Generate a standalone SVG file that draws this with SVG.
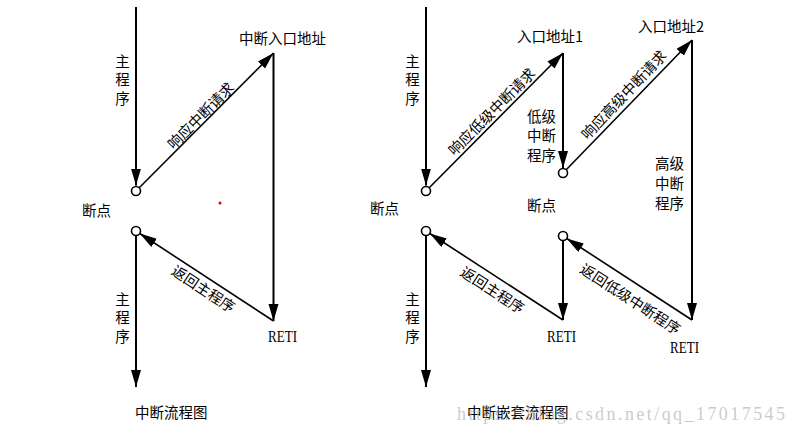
<svg xmlns="http://www.w3.org/2000/svg" width="797" height="436" viewBox="0 0 797 436">
<style>
.cjk{font-family:"Noto Sans CJK SC","Noto Sans",sans-serif;font-size:14.5px;fill:#000}
.vt{writing-mode:vertical-rl;glyph-orientation-vertical:0;letter-spacing:4px}
.ret{font-family:"Liberation Serif",serif;font-size:16px;fill:#000}
.rot{text-anchor:middle;dominant-baseline:central}
.v{stroke:#000;stroke-width:2;fill:none}
.d{stroke:#000;stroke-width:1.6;fill:none}
.bp{fill:#fff;stroke:#000;stroke-width:1.6}
.wm{font-family:"Liberation Serif",serif;font-size:18px;fill:#b4b4b4;fill-opacity:0.7}
</style>
<defs>
<marker id="ah" markerUnits="userSpaceOnUse" markerWidth="18" markerHeight="11" refX="17" refY="5" orient="auto">
<path d="M0,0 L17,5 L0,10 Z" fill="#000"/>
</marker>
</defs>
<rect width="797" height="436" fill="#fff"/>

<g id="connectors">
<line class="v" x1="136" y1="7" x2="136" y2="185.5" marker-end="url(#ah)"/>
<line class="d" x1="139.2" y1="187.8" x2="273.5" y2="53" marker-end="url(#ah)"/>
<line class="v" x1="273.5" y1="53" x2="273.5" y2="321" marker-end="url(#ah)"/>
<line class="d" x1="273.5" y1="321" x2="139.8" y2="233.5" marker-end="url(#ah)"/>
<line class="v" x1="136" y1="235.5" x2="136" y2="387" marker-end="url(#ah)"/>
<line class="v" x1="426" y1="7" x2="426" y2="185.5" marker-end="url(#ah)"/>
<line class="d" x1="429.2" y1="187.8" x2="563" y2="53" marker-end="url(#ah)"/>
<line class="v" x1="563" y1="53" x2="563" y2="168" marker-end="url(#ah)"/>
<line class="d" x1="566.2" y1="169.8" x2="692" y2="40" marker-end="url(#ah)"/>
<line class="v" x1="692" y1="40" x2="692" y2="320" marker-end="url(#ah)"/>
<line class="d" x1="692" y1="320" x2="566.8" y2="238.5" marker-end="url(#ah)"/>
<line class="v" x1="563" y1="240.5" x2="563" y2="320" marker-end="url(#ah)"/>
<line class="d" x1="563" y1="320" x2="429.8" y2="233.5" marker-end="url(#ah)"/>
<line class="v" x1="426" y1="235.5" x2="426" y2="387" marker-end="url(#ah)"/>
</g>

<g id="connector-labels">
<text class="cjk rot" transform="translate(200,115) rotate(-45)">响应中断请求</text>
<text class="cjk rot" transform="translate(204,288) rotate(33.3)">返回主程序</text>
<text class="cjk rot" transform="translate(491,111) rotate(-45)">响应低级中断请求</text>
<text class="cjk rot" transform="translate(623,94) rotate(-46.5)">响应高级中断请求</text>
<text class="cjk rot" transform="translate(493,289) rotate(33)">返回主程序</text>
<text class="cjk rot" transform="translate(631,298) rotate(33)">返回低级中断程序</text>
</g>

<g id="left-main-top">
<text class="cjk vt" x="122.5" y="54">主程序</text>
</g>
<g id="left-breakpoint">
<circle class="bp" cx="136" cy="191" r="4.5"/>
<circle class="bp" cx="136" cy="231" r="4.5"/>
<text class="cjk" x="82" y="216">断点</text>
</g>
<g id="left-entry">
<text class="cjk" x="239" y="44">中断入口地址</text>
</g>
<g id="left-reti">
<text class="ret" x="268" y="342" textLength="29" lengthAdjust="spacingAndGlyphs">RETI</text>
</g>
<g id="left-main-bottom">
<text class="cjk vt" x="122.5" y="292">主程序</text>
</g>
<g id="left-title">
<text class="cjk" x="135" y="418">中断流程图</text>
</g>
<g id="red-dot">
<circle cx="220" cy="203" r="1.5" fill="#e00000"/>
</g>

<g id="right-main-top">
<text class="cjk vt" x="412.5" y="54">主程序</text>
</g>
<g id="right-breakpoint1">
<circle class="bp" cx="426" cy="191" r="4.5"/>
<circle class="bp" cx="426" cy="231" r="4.5"/>
<text class="cjk" x="370" y="214">断点</text>
</g>
<g id="entry1">
<text class="cjk" x="517" y="42">入口地址1</text>
</g>
<g id="low-isr">
<text class="cjk" x="527" y="122">低级</text>
<text class="cjk" x="527" y="141">中断</text>
<text class="cjk" x="527" y="161">程序</text>
</g>
<g id="right-breakpoint2">
<circle class="bp" cx="563" cy="173" r="4.5"/>
<circle class="bp" cx="563" cy="236" r="4.5"/>
<text class="cjk" x="527" y="211">断点</text>
</g>
<g id="entry2">
<text class="cjk" x="638" y="32">入口地址2</text>
</g>
<g id="high-isr">
<text class="cjk" x="655" y="169">高级</text>
<text class="cjk" x="655" y="189">中断</text>
<text class="cjk" x="655" y="209">程序</text>
</g>
<g id="reti1">
<text class="ret" x="547" y="342" textLength="29" lengthAdjust="spacingAndGlyphs">RETI</text>
</g>
<g id="reti2">
<text class="ret" x="670" y="353" textLength="29" lengthAdjust="spacingAndGlyphs">RETI</text>
</g>
<g id="right-main-bottom">
<text class="cjk vt" x="412.5" y="292">主程序</text>
</g>
<g id="right-title">
<text class="cjk" x="467" y="418">中断嵌套流程图</text>
</g>
<g id="watermark">
<text class="wm" x="457" y="420" textLength="328">https://blog.csdn.net/qq_17017545</text>
</g>
</svg>
